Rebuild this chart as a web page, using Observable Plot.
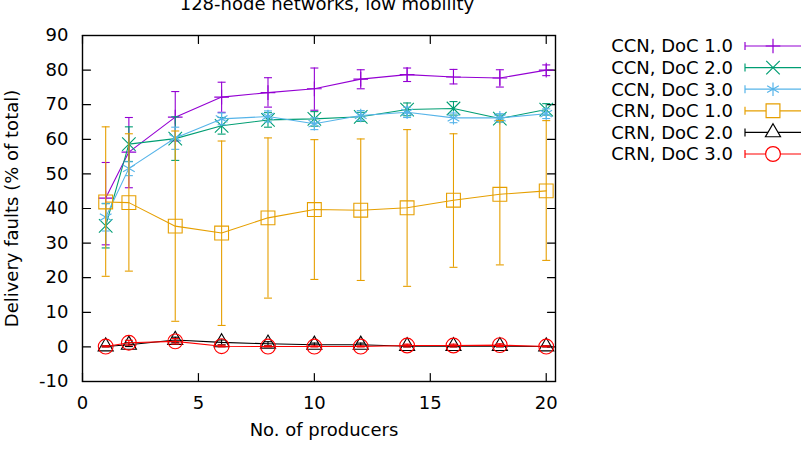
<!DOCTYPE html>
<html>
<head>
<meta charset="utf-8">
<script src="https://cdn.jsdelivr.net/npm/d3@7"></script>
<script src="https://cdn.jsdelivr.net/npm/@observablehq/plot@0.6"></script>
<style>
  html, body { margin: 0; padding: 0; background: #fff; }
  #chart { width: 801px; height: 460px; overflow: hidden; }
</style>
</head>
<body>
<div id="chart"></div>
<script>
// Number of producers on the x axis
const producers = [1, 2, 4, 6, 8, 10, 12, 14, 16, 18, 20];

// Series names (legend labels)
const seriesNames = ["CCN, DoC 1.0", "CCN, DoC 2.0", "CCN, DoC 3.0", "CRN, DoC 1.0", "CRN, DoC 2.0", "CRN, DoC 3.0"];

// Mean delivery faults (% of total) and error-bar bounds per series
const ccn1Mean = [43.0, 56.3, 66.4, 72.2, 73.5, 74.6, 77.4, 78.7, 78.0, 77.7, 80.0];
const ccn1Low  = [29.5, 46.0, 59.5, 67.8, 69.3, 68.4, 74.6, 76.7, 76.0, 75.1, 78.4];
const ccn1High = [53.3, 66.3, 73.8, 76.5, 77.8, 80.6, 80.1, 80.6, 80.2, 80.1, 81.5];

const ccn2Mean = [35.0, 58.6, 60.2, 63.9, 65.6, 65.9, 66.5, 68.6, 68.9, 66.0, 68.6];
const ccn2Low  = [28.6, 53.6, 53.9, 61.5, 63.5, 63.8, 65.2, 66.8, 67.0, 65.0, 67.0];
const ccn2High = [41.4, 63.6, 66.5, 66.3, 67.7, 68.0, 67.8, 70.5, 70.9, 67.0, 70.3];

const ccn3Mean = [37.5, 51.6, 60.4, 65.9, 66.6, 64.5, 66.9, 67.8, 66.2, 66.2, 67.4];
const ccn3Low  = [33.5, 49.5, 57.1, 64.2, 65.0, 62.8, 65.5, 66.3, 64.8, 65.0, 66.0];
const ccn3High = [41.5, 53.5, 63.5, 67.6, 68.2, 66.2, 68.3, 69.3, 67.6, 67.4, 68.8];

const crn1Mean = [41.9, 41.7, 34.9, 32.9, 37.3, 39.7, 39.5, 40.2, 42.4, 44.1, 45.1];
const crn1Low  = [20.4, 21.9,  7.4,  6.2, 14.1, 19.5, 19.2, 17.5, 23.0, 23.7, 25.0];
const crn1High = [63.6, 61.6, 62.4, 59.5, 60.4, 59.9, 60.1, 62.8, 61.6, 65.4, 65.4];

const crn2Mean = [0.1, 0.6, 2.0, 1.3, 0.9, 0.6, 0.6, 0.2, 0.2, 0.2, 0.1];
const crn2Low  = [0.0, 0.1, 1.2, 0.6, 0.3, 0.1, 0.1, 0.0, 0.0, 0.0, 0.0];
const crn2High = [0.3, 1.2, 2.8, 2.0, 1.5, 1.1, 1.1, 0.5, 0.5, 0.5, 0.3];

const crn3Mean = [0.1, 1.2, 1.6, 0.2, 0.1, 0.1, 0.1, 0.4, 0.4, 0.5, 0.1];
const crn3Low  = [0.0, 0.5, 0.8, 0.0, 0.0, 0.0, 0.0, 0.0, 0.0, 0.1, 0.0];
const crn3High = [0.3, 1.9, 2.4, 0.5, 0.3, 0.3, 0.3, 0.8, 0.8, 0.9, 0.3];

// Axis ticks
const xTicks = [0, 5, 10, 15, 20];
const yTicks = [-10, 0, 10, 20, 30, 40, 50, 60, 70, 80, 90];

// Per-series styling
const seriesColors  = ["#9400d3", "#009e73", "#56b4e9", "#e69f00", "#000000", "#ff0000"];
const seriesSymbols = ["plus", "times", "asterisk", "square2", "triangle2", "circle"];
const seriesRadii   = [4.8, 6.2, 6.4, 8.8, 7.2, 7.4];

const means = [ccn1Mean, ccn2Mean, ccn3Mean, crn1Mean, crn2Mean, crn3Mean];
const lows  = [ccn1Low,  ccn2Low,  ccn3Low,  crn1Low,  crn2Low,  crn3Low];
const highs = [ccn1High, ccn2High, ccn3High, crn1High, crn2High, crn3High];

// Long table: one row per (series, producers)
const rows = seriesNames.map((name, i) =>
  producers.map((p, j) => ({series: name, x: p, mean: means[i][j], low: lows[i][j], high: highs[i][j]}))
);

// Horizontal cap drawn at the ends of each error bar
const capSymbol = {
  draw(context, size) {
    const w = Math.sqrt(size / Math.PI);
    context.moveTo(-w, 0);
    context.lineTo(w, 0);
  }
};

// Short straight tick pointing inward from the frame
const tickShape = {
  draw(context, length) {
    context.moveTo(0, 0);
    context.lineTo(0, -length);
  }
};

const FONT = 18;
const tickLen = 8;
const seriesMarks = rows.flatMap((data, i) => {
  const color = seriesColors[i];
  return [
    Plot.ruleX(data, {x: "x", y1: "low", y2: "high", stroke: color, strokeWidth: 1.1}),
    Plot.dot(data, {x: "x", y: "low", symbol: capSymbol, r: 4, stroke: color, strokeWidth: 1.1}),
    Plot.dot(data, {x: "x", y: "high", symbol: capSymbol, r: 4, stroke: color, strokeWidth: 1.1}),
    Plot.line(data, {x: "x", y: "mean", stroke: color, strokeWidth: 1.1}),
    Plot.dot(data, {x: "x", y: "mean", symbol: seriesSymbols[i], r: seriesRadii[i], stroke: color, fill: "none", strokeWidth: 1.1})
  ];
});

const chart = Plot.plot({
  width: 801,
  height: 460,
  marginLeft: 82,
  marginRight: 246,
  marginTop: 35,
  marginBottom: 79,
  style: {fontFamily: "DejaVu Sans", fontSize: `${FONT}px`, background: "#fff", color: "#000", overflow: "visible"},
  x: {domain: [0, 20.4]},
  y: {domain: [-10, 90]},
  marks: [
    // inward ticks on all four sides
    Plot.vector(xTicks, {x: d => d, frameAnchor: "bottom", length: tickLen, rotate: 0, anchor: "start", shape: tickShape, stroke: "#000", strokeWidth: 1.2}),
    Plot.vector(xTicks, {x: d => d, frameAnchor: "top", length: tickLen, rotate: 180, anchor: "start", shape: tickShape, stroke: "#000", strokeWidth: 1.2}),
    Plot.vector(yTicks, {y: d => d, frameAnchor: "left", length: tickLen, rotate: 90, anchor: "start", shape: tickShape, stroke: "#000", strokeWidth: 1.2}),
    Plot.vector(yTicks, {y: d => d, frameAnchor: "right", length: tickLen, rotate: -90, anchor: "start", shape: tickShape, stroke: "#000", strokeWidth: 1.2}),
    Plot.axisX({ticks: xTicks, tickSize: 0, tickPadding: 15, tickFormat: d => String(d), label: null, fontSize: FONT}),
    Plot.axisY({ticks: yTicks, tickSize: 0, tickPadding: 14, tickFormat: d => String(d), label: null, fontSize: FONT}),
    ...seriesMarks,
    Plot.frame({stroke: "#000", strokeWidth: 1.4}),
    // titles
    Plot.text(["128-node networks, low mobility"], {text: d => d, frameAnchor: "top", dy: -26, dx: 8, fontSize: FONT, lineAnchor: "bottom"}),
    Plot.text(["No. of producers"], {text: d => d, frameAnchor: "bottom", dy: 54, dx: 5, fontSize: FONT}),
    Plot.text(["Delivery faults (% of total)"], {text: d => d, frameAnchor: "left", textAnchor: "middle", dx: -70, rotate: -90, fontSize: FONT})
  ]
});

// Key on the right: label, error-bar style line and the series symbol
const key = d3.select(chart).append("g").attr("class", "key");
seriesNames.forEach((name, i) => {
  const cy = 46 + i * 21.6;
  const color = seriesColors[i];
  const g = key.append("g");
  g.append("text")
    .attr("x", 733).attr("y", cy).attr("dy", "0.36em")
    .attr("text-anchor", "end").attr("font-family", "DejaVu Sans").attr("font-size", FONT)
    .attr("fill", "#000").text(name);
  g.append("line").attr("x1", 745).attr("x2", 801).attr("y1", cy).attr("y2", cy)
    .attr("stroke", color).attr("stroke-width", 1.2);
  g.append("line").attr("x1", 745).attr("x2", 745).attr("y1", cy - 4).attr("y2", cy + 4)
    .attr("stroke", color).attr("stroke-width", 1.2);
  const symType = {plus: d3.symbolPlus, times: d3.symbolTimes, asterisk: d3.symbolAsterisk,
                   square2: d3.symbolSquare2, triangle2: d3.symbolTriangle2, circle: d3.symbolCircle}[seriesSymbols[i]];
  const r = seriesRadii[i];
  g.append("path")
    .attr("transform", `translate(773,${cy})`)
    .attr("d", d3.symbol(symType, Math.PI * r * r)())
    .attr("fill", "#fff").attr("stroke", i === 4 ? "#000" : color).attr("stroke-width", 1.2);
});

document.getElementById("chart").appendChild(chart);
</script>
</body>
</html>
